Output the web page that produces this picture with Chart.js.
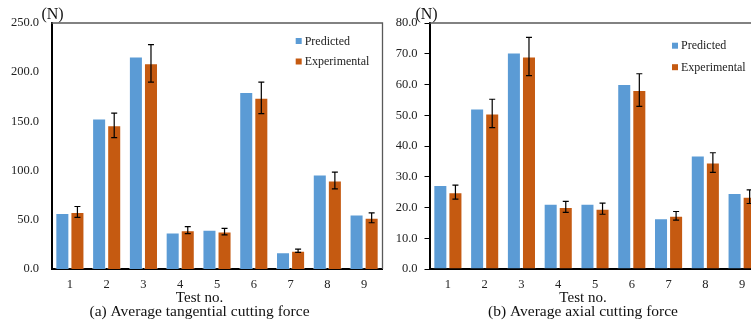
<!DOCTYPE html>
<html>
<head>
<meta charset="utf-8">
<script src="https://cdn.jsdelivr.net/npm/chart.js@4.4.1/dist/chart.umd.min.js"></script>
<style>
  body { margin: 0; background: #fff; overflow: hidden; }
  #wrap { position: relative; width: 751px; height: 325px; overflow: hidden; }
  canvas { position: absolute; top: 0; }
  #tang { left: 0; }
  #axial { left: 395px; }
</style>
</head>
<body>
<div id="wrap">
  <canvas id="tang" width="395" height="325"></canvas>
  <canvas id="axial" width="380" height="325"></canvas>
</div>
<script>
///////////// DATA /////////////

const testNos = ['1', '2', '3', '4', '5', '6', '7', '8', '9'];

// (a) tangential force, N
const tangPredicted = [57, 153, 216, 37, 40, 180, 17, 96, 55.5];
const tangExperimental = [58, 146, 209, 39.5, 38, 174, 18.5, 90, 52];
const tangError = [5.5, 12.5, 19, 3.6, 3.3, 16, 1.6, 8.5, 5];

// (b) axial force, N
const axialPredicted = [27.3, 52.2, 70.4, 21.2, 21.2, 60.2, 16.5, 36.9, 24.7];
const axialExperimental = [25, 50.6, 69.1, 20.2, 19.6, 58.2, 17.3, 34.6, 23.5];
const axialError = [2.3, 4.6, 6.2, 1.8, 1.8, 5.3, 1.4, 3.2, 2.2];

const BLUE = '#5B9BD5';
const ORANGE = '#C55A11';
const SERIF = '"Liberation Serif", "Times New Roman", serif';

///////////// PLUGIN: error bars, frame, legend, labels /////////////

const decor = {
  id: 'decor',
  afterDatasetsDraw(chart, args, o) {
    const ctx = chart.ctx;
    const meta = chart.getDatasetMeta(1);
    const y = chart.scales.y;
    const vals = chart.data.datasets[1].data;
    ctx.save();
    ctx.strokeStyle = '#000';
    ctx.lineWidth = 1.2;
    meta.data.forEach((bar, i) => {
      const top = y.getPixelForValue(vals[i] + o.errors[i]);
      const bot = y.getPixelForValue(vals[i] - o.errors[i]);
      ctx.beginPath();
      ctx.moveTo(bar.x, top); ctx.lineTo(bar.x, bot);
      ctx.moveTo(bar.x - 3, top); ctx.lineTo(bar.x + 3, top);
      ctx.moveTo(bar.x - 3, bot); ctx.lineTo(bar.x + 3, bot);
      ctx.stroke();
    });
    ctx.restore();
  },
  afterDraw(chart, args, o) {
    const ctx = chart.ctx, a = chart.chartArea;
    ctx.save();
    // top and right frame
    ctx.strokeStyle = '#595959';
    ctx.lineWidth = 1.3;
    ctx.beginPath();
    ctx.moveTo(a.left, a.top);
    ctx.lineTo(a.right, a.top);
    ctx.lineTo(a.right, a.bottom);
    ctx.stroke();

    // legend
    ctx.font = '12px ' + SERIF;
    ctx.textBaseline = 'middle';
    ctx.textAlign = 'left';
    chart.data.datasets.forEach((ds, i) => {
      const ly = o.legendY + i * o.legendGap;
      ctx.fillStyle = ds.backgroundColor;
      ctx.fillRect(o.legendX, ly - 3, 6, 6);
      ctx.fillStyle = '#222';
      ctx.fillText(ds.label, o.legendX + 9, ly + 0.5);
    });

    // unit label
    ctx.font = '16px ' + SERIF;
    ctx.textAlign = 'center';
    ctx.textBaseline = 'middle';
    ctx.fillStyle = '#111';
    ctx.fillText('(N)', a.left + o.unitDx, 15);

    // axis title and caption
    ctx.textBaseline = 'alphabetic';
    ctx.font = '15px ' + SERIF;
    ctx.fillText('Test no.', o.titleX, 302);
    ctx.font = '15.5px ' + SERIF;
    ctx.fillText(o.caption, o.titleX, 315.5);
    ctx.restore();
  }
};

///////////// CHARTS /////////////

function makeChart(id, pred, exp, errs, yMax, yStep, yWidth, padRight, yTicks, opts) {
  return new Chart(document.getElementById(id), {
    type: 'bar',
    data: {
      labels: testNos,
      datasets: [
        { label: 'Predicted', data: pred, backgroundColor: BLUE,
          borderColor: 'rgba(255,255,255,0.45)', borderWidth: 1 },
        { label: 'Experimental', data: exp, backgroundColor: ORANGE,
          borderColor: 'rgba(255,255,255,0.35)', borderWidth: 1 }
      ]
    },
    options: {
      responsive: false,
      animation: false,
      devicePixelRatio: 1,
      layout: { padding: { top: 23, right: padRight, bottom: 0, left: 0 } },
      datasets: { bar: { categoryPercentage: 0.82, barPercentage: 0.93 } },
      plugins: {
        legend: { display: false },
        tooltip: { enabled: false },
        decor: Object.assign({ errors: errs }, opts)
      },
      scales: {
        x: {
          grid: { display: false, drawTicks: false },
          border: { display: true, color: '#000', width: 2 },
          ticks: { color: '#222', padding: 8, font: { family: SERIF, size: 12.5 } },
          afterFit: s => { s.height = 56; }
        },
        y: {
          min: 0, max: yMax,
          grid: { display: yTicks, drawOnChartArea: false, drawTicks: yTicks, tickLength: 5, color: '#000' },
          border: { display: true, color: '#000', width: 2 },
          ticks: { stepSize: yStep, color: '#222', padding: yTicks ? 7 : 12.5,
                   font: { family: SERIF, size: 12.5 },
                   callback: v => v.toFixed(1) },
          afterFit: s => { s.width = yWidth; }
        }
      }
    },
    plugins: [decor]
  });
}

makeChart('tang', tangPredicted, tangExperimental, tangError, 250, 50, 51.5, 12.5, false, {
  legendX: 295.7, legendY: 41, legendGap: 20.5, unitDx: 1, titleX: 199.5,
  caption: '(a) Average tangential cutting force'
});

makeChart('axial', axialPredicted, axialExperimental, axialError, 80, 10, 34.5, 14.5, true, {
  legendX: 277, legendY: 45.7, legendGap: 21.5, unitDx: -3, titleX: 188,
  caption: '(b) Average axial cutting force'
});
</script>
</body>
</html>
